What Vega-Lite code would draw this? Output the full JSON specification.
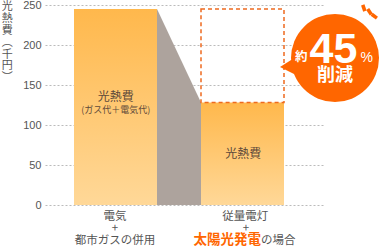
{
  "$schema": "https://vega.github.io/schema/vega-lite/v6.json",
  "width": 278,
  "height": 200,
  "autosize": {"type": "none"},
  "padding": {"left": 45, "top": 5, "right": 58, "bottom": 42},
  "background": "white",
  "config": {"view": {"stroke": null}, "font": "Noto Sans CJK JP"},
  "encoding": {
    "x": {"field": "x", "type": "quantitative", "scale": {"domain": [0, 278], "nice": false, "zero": false}, "axis": null},
    "y": {"field": "y", "type": "quantitative", "scale": {"domain": [0, 250], "nice": false},
      "axis": {"title": null, "values": [0, 50, 100, 150, 200, 250], "domain": false, "ticks": false, "grid": true,
        "gridColor": "#bbbbbb", "gridDash": [2, 2], "gridWidth": 1, "labelColor": "#555555", "labelFontSize": 11,
        "labelFont": "Liberation Sans", "labelPadding": 4}}
  },
  "layer": [
    {
      "data": {"values": [{"x": 112, "y": 245}, {"x": 156, "y": 128}]},
      "mark": {"type": "area", "color": "#ADA39D", "opacity": 1},
      "encoding": {"y2": {"datum": 0}}
    },
    {
      "data": {"values": [
        {"case": "電気+都市ガス", "x": 29, "x2": 112, "y": 245},
        {"case": "従量電灯+太陽光発電", "x": 156, "x2": 239, "y": 128}
      ]},
      "mark": {"type": "rect", "color": {"gradient": "linear", "x1": 0, "y1": 0, "x2": 0, "y2": 1,
        "stops": [{"offset": 0, "color": "#FFB84C"}, {"offset": 1, "color": "#FFD898"}]}},
      "encoding": {"x2": {"field": "x2"}, "y2": {"datum": 0}}
    },
    {
      "data": {"values": [{"x": 156, "x2": 239, "y": 128, "y2": 245}]},
      "mark": {"type": "rect", "fill": null, "fillOpacity": 0, "stroke": "#EE6A1F", "strokeWidth": 1.5, "strokeDash": [4, 3]},
      "encoding": {"x2": {"field": "x2"}, "y2": {"field": "y2"}}
    },
    {
      "data": {"values": [{"x": 235, "y": 172.5, "y2": 172.5}, {"x": 252, "y": 186, "y2": 162}]},
      "mark": {"type": "area", "color": "#FF6600", "opacity": 1},
      "encoding": {"y2": {"field": "y2"}}
    },
    {
      "data": {"values": [{"x": 290, "y": 183.75}]},
      "mark": {"type": "point", "shape": "circle", "filled": true, "size": 7744, "color": "#FF6600", "opacity": 1}
    },
    {
      "data": {"values": [
        {"x": 318.8, "y": 246.25, "angle": -19},
        {"x": 324.5, "y": 241.6, "angle": -34},
        {"x": 329.3, "y": 236, "angle": -54}
      ]},
      "mark": {"type": "point", "shape": "M-0.55,-1L0.55,-1L0.55,1L-0.55,1Z", "filled": true, "size": 42, "color": "#FF6600", "opacity": 1},
      "encoding": {"angle": {"field": "angle", "type": "quantitative", "scale": null}}
    },
    {
      "data": {"values": [{"x": 288.5, "y": 177.5, "label": "45"}]},
      "mark": {"type": "text", "font": "Liberation Sans", "fontWeight": "bold", "fontSize": 43, "color": "white", "align": "center", "baseline": "alphabetic"},
      "encoding": {"text": {"field": "label"}}
    },
    {
      "data": {"values": [{"x": 321.7, "y": 178.75, "label": "%"}]},
      "mark": {"type": "text", "font": "Liberation Sans", "fontSize": 14, "color": "white", "align": "center", "baseline": "alphabetic"},
      "encoding": {"text": {"field": "label"}}
    },
    {
      "data": {"values": [{"x": 256.3, "y": 184.4, "label": "約"}]},
      "mark": {"type": "text", "fontSize": 12.5, "fontWeight": "bold", "color": "white", "align": "center", "baseline": "middle"},
      "encoding": {"text": {"field": "label"}}
    },
    {
      "data": {"values": [{"x": 290, "y": 161.5, "label": "削減"}]},
      "mark": {"type": "text", "fontSize": 18, "fontWeight": "bold", "color": "white", "align": "center", "baseline": "middle"},
      "encoding": {"text": {"field": "label"}}
    },
    {
      "data": {"values": [{"x": 70.7, "y": 135.4, "label": "光熱費"}, {"x": 198.3, "y": 63.75, "label": "光熱費"}]},
      "mark": {"type": "text", "fontSize": 12, "color": "#5E4A3A", "align": "center", "baseline": "middle"},
      "encoding": {"text": {"field": "label"}}
    },
    {
      "data": {"values": [{"x": 70.7, "y": 119, "label": "(ガス代＋電気代)"}]},
      "mark": {"type": "text", "fontSize": 9, "color": "#5E4A3A", "align": "center", "baseline": "middle"},
      "encoding": {"text": {"field": "label"}}
    },
    {
      "data": {"values": [
        {"x": 70, "y": -15, "label": "電気"},
        {"x": 70, "y": -30.5, "label": "+"},
        {"x": 70, "y": -44.5, "label": "都市ガスの併用"},
        {"x": 200.3, "y": -15, "label": "従量電灯"},
        {"x": 201, "y": -30.5, "label": "+"}
      ]},
      "mark": {"type": "text", "fontSize": 11.5, "color": "#555555", "align": "center", "baseline": "middle"},
      "encoding": {"text": {"field": "label"}}
    },
    {
      "data": {"values": [{"x": 216, "y": -44.5, "label": "の場合"}]},
      "mark": {"type": "text", "fontSize": 11.5, "color": "#555555", "align": "left", "baseline": "middle"},
      "encoding": {"text": {"field": "label"}}
    },
    {
      "data": {"values": [{"x": 216, "y": -44.3, "label": "太陽光発電"}]},
      "mark": {"type": "text", "fontSize": 13.5, "fontWeight": "bold", "color": "#FF6600", "align": "right", "baseline": "middle"},
      "encoding": {"text": {"field": "label"}}
    },
    {
      "data": {"values": [{"x": -37.7, "y": 254.5, "label": "光\n熱\n費\n︵\n千\n円\n︶"}]},
      "mark": {"type": "text", "fontSize": 11, "color": "#555555", "align": "center", "baseline": "top", "lineBreak": "\n", "lineHeight": 11.8},
      "encoding": {"text": {"field": "label"}}
    }
  ]
}
